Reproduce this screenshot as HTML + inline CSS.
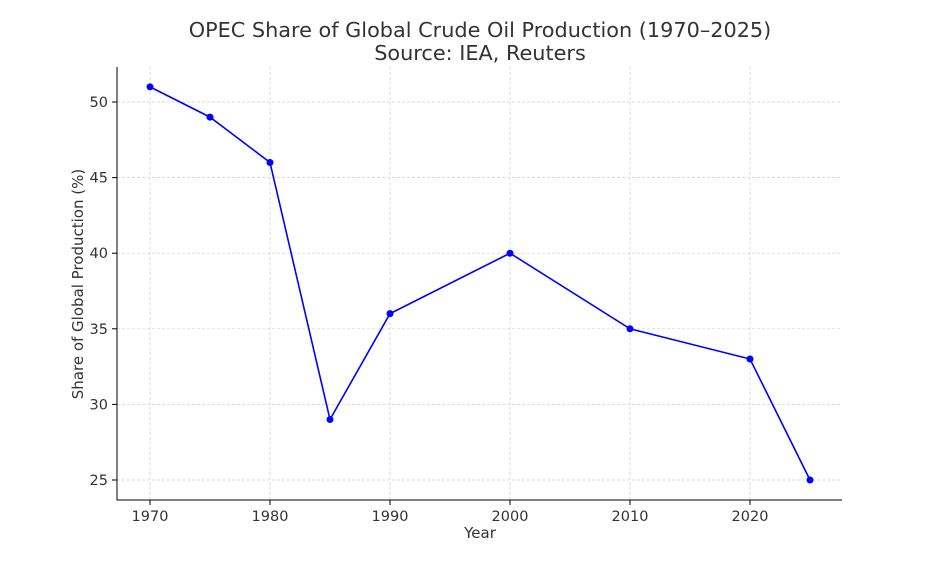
<!DOCTYPE html>
<html><head><meta charset="utf-8"><style>body{margin:0;background:#fff}</style></head><body>
<svg width="936" height="562" xmlns="http://www.w3.org/2000/svg" font-family="DejaVu Sans, Liberation Sans, sans-serif">
<rect width="936" height="562" fill="#fff"/>
<g stroke="#d0d0d0" stroke-width="0.7" stroke-dasharray="3,2">
<line x1="150" y1="67" x2="150" y2="500"/><line x1="270" y1="67" x2="270" y2="500"/><line x1="390" y1="67" x2="390" y2="500"/><line x1="510" y1="67" x2="510" y2="500"/><line x1="630" y1="67" x2="630" y2="500"/><line x1="750" y1="67" x2="750" y2="500"/>
<line x1="117" y1="102" x2="842" y2="102"/><line x1="117" y1="177.6" x2="842" y2="177.6"/><line x1="117" y1="253.2" x2="842" y2="253.2"/><line x1="117" y1="328.8" x2="842" y2="328.8"/><line x1="117" y1="404.4" x2="842" y2="404.4"/><line x1="117" y1="480" x2="842" y2="480"/>
</g>
<g stroke="#000" stroke-width="1">
<line x1="117" y1="67" x2="117" y2="500.5"/><line x1="116.5" y1="500" x2="842" y2="500"/>
<line x1="150" y1="500" x2="150" y2="505"/><line x1="270" y1="500" x2="270" y2="505"/><line x1="390" y1="500" x2="390" y2="505"/><line x1="510" y1="500" x2="510" y2="505"/><line x1="630" y1="500" x2="630" y2="505"/><line x1="750" y1="500" x2="750" y2="505"/>
<line x1="112" y1="102" x2="117" y2="102"/><line x1="112" y1="177.6" x2="117" y2="177.6"/><line x1="112" y1="253.2" x2="117" y2="253.2"/><line x1="112" y1="328.8" x2="117" y2="328.8"/><line x1="112" y1="404.4" x2="117" y2="404.4"/><line x1="112" y1="480" x2="117" y2="480"/>
</g>
<g font-size="14.5" fill="#333" text-anchor="middle">
<text x="150" y="521">1970</text><text x="270" y="521">1980</text><text x="390" y="521">1990</text><text x="510" y="521">2000</text><text x="630" y="521">2010</text><text x="750" y="521">2020</text>
</g>
<g font-size="14.5" fill="#333" text-anchor="end">
<text x="108" y="107">50</text><text x="108" y="182.6">45</text><text x="108" y="258.2">40</text><text x="108" y="333.8">35</text><text x="108" y="409.4">30</text><text x="108" y="485">25</text>
</g>
<text x="480" y="538" font-size="15" fill="#333" text-anchor="middle">Year</text>
<text transform="translate(83,284) rotate(-90)" font-size="15" fill="#333" text-anchor="middle">Share of Global Production (%)</text>
<text x="480" y="37" font-size="20.8" fill="#333" text-anchor="middle">OPEC Share of Global Crude Oil Production (1970–2025)</text>
<text x="480" y="60" font-size="20.8" fill="#333" text-anchor="middle">Source: IEA, Reuters</text>
<polyline fill="none" stroke="#0000ff" stroke-width="1.6" points="150,86.9 210,117.1 270,162.5 330,419.5 390,313.6 510,253.2 630,328.8 750,359 810,480"/>
<g fill="#0000ff">
<circle cx="150" cy="86.9" r="3.5"/><circle cx="210" cy="117.1" r="3.5"/><circle cx="270" cy="162.5" r="3.5"/><circle cx="330" cy="419.5" r="3.5"/><circle cx="390" cy="313.6" r="3.5"/><circle cx="510" cy="253.2" r="3.5"/><circle cx="630" cy="328.8" r="3.5"/><circle cx="750" cy="359" r="3.5"/><circle cx="810" cy="480" r="3.5"/>
</g>
</svg>
</body></html>
